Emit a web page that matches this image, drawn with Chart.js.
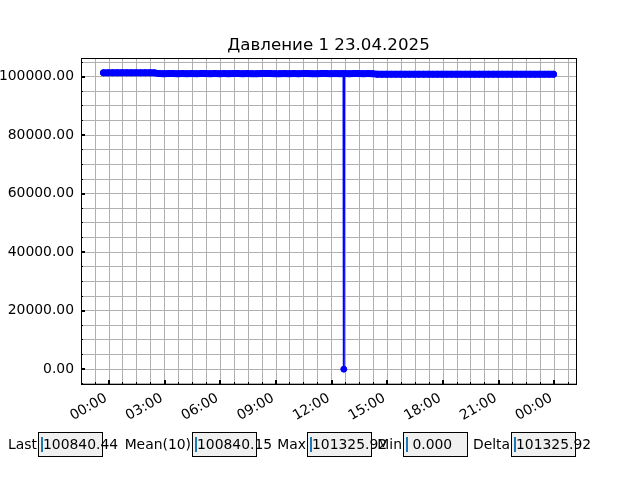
<!DOCTYPE html>
<html>
<head>
<meta charset="utf-8">
<script src="https://cdn.jsdelivr.net/npm/chart.js@4.4.1/dist/chart.umd.min.js"></script>
<style>
  html, body { margin: 0; padding: 0; background: #fff; }
  #wrap { position: relative; width: 640px; height: 480px; overflow: hidden; }
  #c { position: absolute; left: 0; top: 0; }
  .lbl { position: absolute; font-family: 'DejaVu Sans', sans-serif; font-size: 13.9px; color: #000; white-space: pre; line-height: 25px; text-align: right; }
  .box { position: absolute; box-sizing: border-box; border: 1px solid #000; background: #f0f0f0; height: 25px; width: 65px; }
  .val { position: absolute; font-family: 'DejaVu Sans', sans-serif; font-size: 13.9px; color: #000; white-space: pre; line-height: 25px; }
  .cur { position: absolute; width: 2px; height: 15px; background: #1f77b4; }
</style>
</head>
<body>
<div id="wrap">
  <canvas id="c" width="640" height="480"></canvas>
</div>
<script>
// ---------------- data ----------------
const titleText = 'Давление 1 23.04.2025';

// minutes relative to 00:00 on 23.04.2025
const times = [
  -18, -3, 12, 27, 42, 57, 72, 87, 102, 117, 132, 147,
  162, 177, 192, 207, 222, 237, 252, 267, 282, 297, 312, 327, 342, 357, 372, 387,
  402, 417, 432, 447, 462, 477, 492, 507, 522, 537, 552, 567, 582, 597, 612, 627,
  642, 657, 672, 687, 702, 717, 732, 747, 758, 759, 760, 762, 777, 792, 807, 822, 837, 852,
  867, 882, 897, 912, 927, 942, 957, 972, 987, 1002, 1017, 1032, 1047, 1062, 1077,
  1092, 1107, 1122, 1137, 1152, 1167, 1182, 1197, 1212, 1227, 1242, 1257, 1272,
  1287, 1302, 1317, 1332, 1347, 1362, 1377, 1392, 1407, 1422, 1437
];

const pressure = [
  101312.6, 101318.4, 101321.7, 101319.9, 101323.5, 101325.92, 101320.8, 101322.1, 101317.6, 101320.3, 101316.9, 101319.5,
  101052.3, 101048.7, 101055.1, 101050.4, 101046.9, 101053.8, 101049.2, 101051.6, 101047.3, 101054.0, 101050.8, 101048.1, 101052.7, 101049.9, 101051.2, 101046.5,
  101053.3, 101050.1, 101048.8, 101052.0, 101049.4, 101047.7, 101051.9, 101050.6, 101053.1, 101048.3, 101050.0, 101052.4, 101049.0, 101051.3, 101047.9, 101050.9,
  101052.8, 101049.6, 101048.4, 101051.0, 101050.3, 101047.5, 101052.1, 101049.8, 101050.5, 0.000, 101050.2, 101051.4, 101048.6, 101050.7, 101052.5, 101049.3, 101051.8, 101050.0,
  100842.1, 100839.5, 100841.3, 100838.9, 100840.8, 100842.6, 100839.2, 100840.4, 100841.7, 100838.6, 100840.9, 100842.0, 100839.7, 100841.1, 100840.2,
  100838.8, 100841.5, 100840.6, 100839.4, 100842.3, 100840.0, 100839.1, 100841.2, 100840.7, 100838.7, 100841.9, 100839.8, 100840.6,
  100839.9, 100840.2, 100840.46, 100839.7, 100840.3, 100840.1, 100840.0, 100840.44, 100839.8, 100840.6, 100840.44
];

const xTickStep = 45;      // minutes between (minor) x ticks / grid lines
const xLabelEvery = 180;   // minutes between labelled x ticks
const yTickStep = 5000;
const yLabelEvery = 20000;

const statLabels = ['Last', 'Mean(10)', 'Max', 'Min', 'Delta'];
const statValues = ['100840.44', '100840.15', '101325.92', ' 0.000', '101325.92'];

// ---------------- chart ----------------
const FONT = 'DejaVu Sans';
const tMin = Math.min(...times), tMax = Math.max(...times);
const vMin = Math.min(...pressure), vMax = Math.max(...pressure);
const xPad = (tMax - tMin) * 0.05, yPad = (vMax - vMin) * 0.05;

function isMult(v, step) { const r = v / step; return Math.abs(r - Math.round(r)) < 1e-6; }

function hhmm(v) {
  let m = ((Math.round(v) % 1440) + 1440) % 1440;
  const h = Math.floor(m / 60), mm = m % 60;
  return String(h).padStart(2, '0') + ':' + String(mm).padStart(2, '0');
}

function align(p, w) { return Math.round(p - w / 2) + w / 2; }

function stepTicks(step) {
  return scale => {
    const out = [];
    for (let k = Math.ceil(scale.min / step); k * step <= scale.max; k++) out.push({ value: k * step });
    scale.ticks = out;
  };
}

const framePlugin = {
  id: 'frame',
  afterDraw(chart) {
    const ctx = chart.ctx, a = chart.chartArea;
    const xs = chart.scales.x, ys = chart.scales.y;
    ctx.save();
    ctx.strokeStyle = '#000';
    xs.ticks.forEach(t => {
      const major = isMult(t.value, xLabelEvery);
      const w = major ? 2 : 1, len = major ? 4 : 2;
      const px = align(xs.getPixelForValue(t.value), w);
      ctx.lineWidth = w;
      ctx.beginPath();
      ctx.moveTo(px, a.bottom);
      ctx.lineTo(px, a.bottom - len);
      ctx.stroke();
    });
    ys.ticks.forEach(t => {
      const major = isMult(t.value, yLabelEvery);
      const w = major ? 2 : 1, len = major ? 4 : 2;
      const py = align(ys.getPixelForValue(t.value), w);
      ctx.lineWidth = w;
      ctx.beginPath();
      ctx.moveTo(a.left, py);
      ctx.lineTo(a.left + len, py);
      ctx.stroke();
    });
    ctx.lineWidth = 1;
    ctx.strokeRect(align(a.left, 1), align(a.top, 1), Math.round(a.right - a.left), Math.round(a.bottom - a.top));
    ctx.fillStyle = '#000';
    ctx.font = '16.67px "' + FONT + '"';
    ctx.textAlign = 'center';
    ctx.textBaseline = 'alphabetic';
    ctx.fillText(titleText, (a.left + a.right) / 2, 50);
    ctx.restore();
  }
};

const isDip = ctx => ctx.p0.parsed.y < 50000 || ctx.p1.parsed.y < 50000;

new Chart(document.getElementById('c'), {
  type: 'line',
  data: {
    datasets: [{
      data: times.map((t, i) => ({ x: t, y: pressure[i] })),
      borderColor: '#0000ff',
      backgroundColor: '#0000ff',
      borderWidth: 2,
      borderCapStyle: 'round',
      borderJoinStyle: 'round',
      segment: { borderWidth: ctx => (isDip(ctx) ? 2 : 7) },
      pointRadius: 3,
      pointBorderWidth: 1,
      pointBackgroundColor: '#0000ff',
      pointBorderColor: '#0000ff',
      tension: 0,
      fill: false
    }]
  },
  options: {
    responsive: false,
    animation: false,
    devicePixelRatio: 1,
    layout: { padding: { left: 0, top: 58, right: 64, bottom: 0 } },
    plugins: { legend: { display: false }, tooltip: { enabled: false }, title: { display: false } },
    scales: {
      x: {
        type: 'linear',
        min: tMin - xPad,
        max: tMax + xPad,
        afterBuildTicks: stepTicks(xTickStep),
        afterFit(s) { s.height = 96; },
        border: { display: false },
        grid: { color: '#b0b0b0', lineWidth: 1, drawTicks: false, tickLength: 0 },
        ticks: {
          autoSkip: false,
          minRotation: 30,
          maxRotation: 30,
          padding: 6,
          labelOffset: -3,
          color: '#000',
          font: { family: FONT, size: 13.9 },
          callback: v => (isMult(v, xLabelEvery) ? hhmm(v) : '')
        }
      },
      y: {
        type: 'linear',
        min: vMin - yPad,
        max: vMax + yPad,
        afterBuildTicks: stepTicks(yTickStep),
        afterFit(s) { s.width = 81; },
        border: { display: false },
        grid: { color: '#b0b0b0', lineWidth: 1, drawTicks: false, tickLength: 0 },
        ticks: {
          autoSkip: false,
          padding: 7,
          color: '#000',
          font: { family: FONT, size: 13.9 },
          callback: v => (isMult(v, yLabelEvery) ? (Math.round(v / yLabelEvery) * yLabelEvery).toFixed(2) : '')
        }
      }
    }
  },
  plugins: [framePlugin]
});

// ---------------- stat boxes ----------------
const boxLefts = [38, 192, 307, 403, 511];
const wrap = document.getElementById('wrap');
statLabels.forEach((lab, i) => {
  const bx = boxLefts[i];
  const l = document.createElement('div');
  l.className = 'lbl';
  l.textContent = lab;
  l.style.right = (640 - bx + 1) + 'px';
  l.style.top = '432px';
  wrap.appendChild(l);
  const b = document.createElement('div');
  b.className = 'box';
  b.style.left = bx + 'px';
  b.style.top = '432px';
  wrap.appendChild(b);
  const c = document.createElement('div');
  c.className = 'cur';
  c.style.left = (bx + 3) + 'px';
  c.style.top = '437px';
  wrap.appendChild(c);
  const v = document.createElement('div');
  v.className = 'val';
  v.textContent = statValues[i];
  v.style.left = (bx + 5) + 'px';
  v.style.top = '432px';
  wrap.appendChild(v);
});
</script>
</body>
</html>
